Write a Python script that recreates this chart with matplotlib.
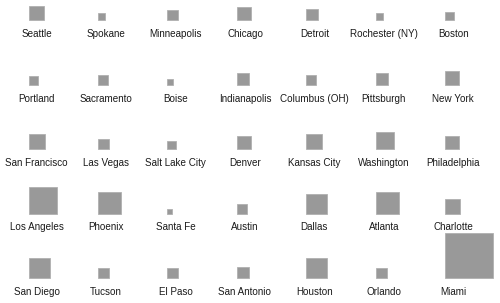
import numpy as np
import matplotlib.pyplot as plt

plt.rcParams['font.family'] = ['Liberation Sans', 'DejaVu Sans']

cities = [
    ["Seattle", "Spokane", "Minneapolis", "Chicago", "Detroit", "Rochester (NY)", "Boston"],
    ["Portland", "Sacramento", "Boise", "Indianapolis", "Columbus (OH)", "Pittsburgh", "New York"],
    ["San Francisco", "Las Vegas", "Salt Lake City", "Denver", "Kansas City", "Washington", "Philadelphia"],
    ["Los Angeles", "Phoenix", "Santa Fe", "Austin", "Dallas", "Atlanta", "Charlotte"],
    ["San Diego", "Tucson", "El Paso", "San Antonio", "Houston", "Orlando", "Miami"],
]
# square size per city
sides = [
    [15, 7, 11, 14, 12, 7, 9],
    [9, 10, 6, 12, 10, 12, 14],
    [16, 11, 9, 14, 16, 18, 14],
    [28, 23, 5, 10, 21, 23, 15],
    [21, 11, 11, 12, 21, 11, 48],
]

W, H = 500, 303
fig = plt.figure(figsize=(5, 3.03), dpi=100)
ax = fig.add_axes([0, 0, 1, 1])
ax.set_xlim(0, W)
ax.set_ylim(0, H)
ax.axis('off')

step = 69.4
label_x = 36.8 + step * np.arange(7)
box_left = 28.5 + step * np.arange(7)
row_base = H - np.array([20, 84.5, 149, 213.5, 278])

for r in range(5):
    s = np.array(sides[r])
    ax.bar(box_left, s * 0.94, width=s, bottom=row_base[r], align='edge',
           color='#999999', edgecolor='#b0b0b0', linewidth=0.6)
    for c in range(7):
        ax.text(label_x[c], row_base[r] - 14, cities[r][c], ha='center',
                va='center', fontsize=7.1, color='#1a1a1a')

fig.savefig('out.png', dpi=100)
